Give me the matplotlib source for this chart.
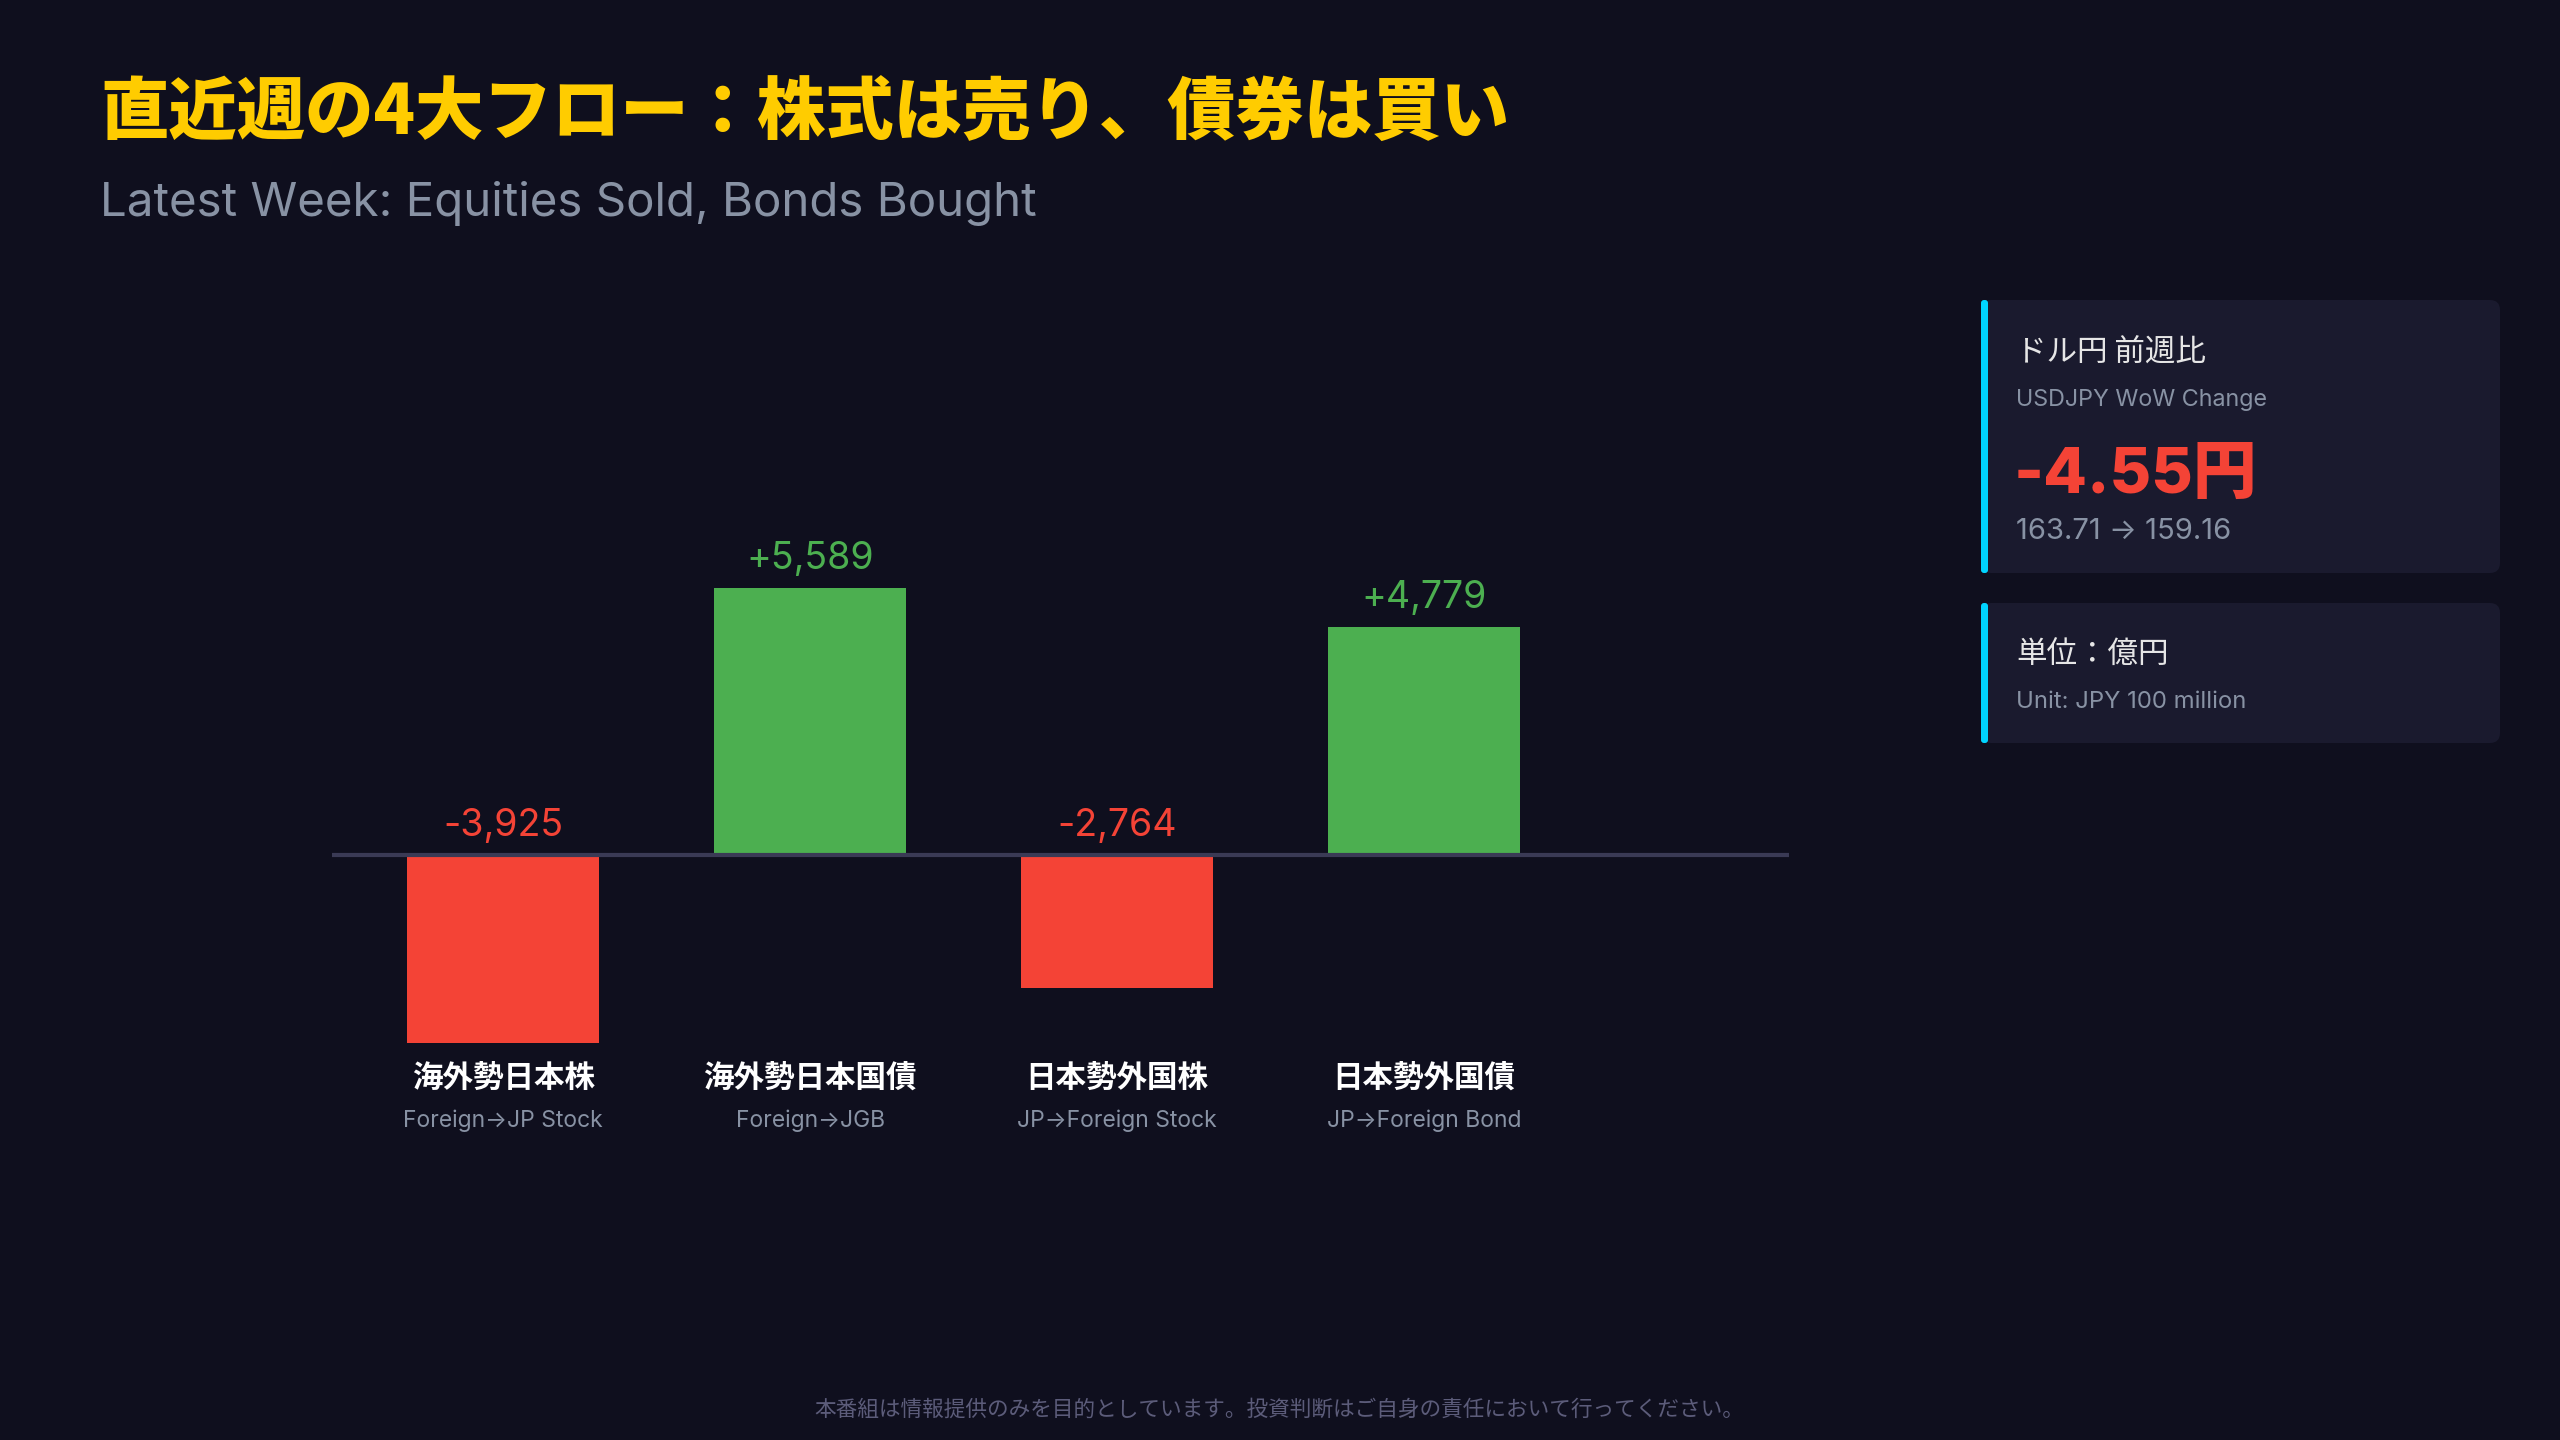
import matplotlib
matplotlib.use("Agg")
import matplotlib.pyplot as plt
from matplotlib.patches import FancyBboxPatch

# data (unit: JPY 100 million)
cats_jp = ["海外勢日本株", "海外勢日本国債", "日本勢外国株", "日本勢外国債"]
cats_en = ["Foreign→JP Stock", "Foreign→JGB", "JP→Foreign Stock", "JP→Foreign Bond"]
flows = [-3925, 5589, -2764, 4779]
usdjpy_prev = 163.71
usdjpy_now = 159.16

BG = "#0f0f1e"
CARD = "#1a1a2e"
RED = "#f44336"
GREEN = "#4caf50"
YELLOW = "#ffcc00"
GREY = "#8892a4"
CYAN = "#00d4ff"

JP = ["Noto Sans CJK JP", "DejaVu Sans"]
MIX = ["Inter", "Noto Sans CJK JP", "DejaVu Sans"]
plt.rcParams["font.family"] = MIX

fig = plt.figure(figsize=(25.6, 14.4), dpi=100, facecolor=BG)

# overlay in pixel coordinates for titles and cards
ov = fig.add_axes([0, 0, 1, 1])
ov.set_xlim(0, 2560)
ov.set_ylim(1440, 0)
ov.axis("off")
ov.patch.set_alpha(0)

ov.text(100, 114, "直近週の4大フロー：株式は売り、債券は買い", color=YELLOW,
        fontsize=49.2, fontweight="heavy", family=JP, va="center", ha="left")
ov.text(100, 204, "Latest Week: Equities Sold, Bonds Bought", color=GREY,
        fontsize=34.2, va="center", ha="left")

# bar chart
ax = fig.add_axes([0.1295, 0.1989, 0.5695, 0.55])
ax.set_facecolor(BG)
x = list(range(len(flows)))
colors = [GREEN if v >= 0 else RED for v in flows]
ax.bar(x, flows, width=0.627, color=colors, zorder=2)
ax.axhline(0, color="#3a3a55", lw=3, zorder=3)
ax.set_xlim(-0.559, 4.19)
ax.set_ylim(-6230, 10322)
for xi, v, c in zip(x, flows, colors):
    ax.text(xi, max(v, 0) + 610, f"{v:+,}".replace("+-", "-"), color=c,
            fontsize=27, ha="center", va="center", zorder=4)
    ax.text(xi, -4640, cats_jp[xi], color="white", fontsize=22,
            fontweight="bold", family=JP, ha="center", va="center")
    ax.text(xi, -5540, cats_en[xi], color=GREY, fontsize=16.5,
            ha="center", va="center")
ax.axis("off")

# side cards
for (y0, h) in [(300, 273), (603, 140)]:
    ov.add_patch(FancyBboxPatch((1981, y0), 519, h, boxstyle="round,pad=0,rounding_size=10",
                                fc=CARD, ec="none", zorder=1))
    ov.add_patch(FancyBboxPatch((1981, y0), 7, h, boxstyle="round,pad=0,rounding_size=3",
                                fc=CYAN, ec="none", zorder=2))

change = usdjpy_now - usdjpy_prev
ov.text(2016, 353, "ドル円 前週比", color="#e6e6e6", fontsize=22, family=JP, va="center")
ov.text(2016, 400, "USDJPY WoW Change", color=GREY, fontsize=16.8, va="center")
ov.text(2014, 476, f"{change:.2f}円", color=RED, fontsize=46, fontweight="heavy",
        va="center")
ov.text(2016, 531, f"{usdjpy_prev:.2f} → {usdjpy_now:.2f}", color=GREY, fontsize=21,
        va="center")
ov.text(2016, 655, "単位：億円", color="#e6e6e6", fontsize=22, family=JP, va="center")
ov.text(2016, 702, "Unit: JPY 100 million", color=GREY, fontsize=17.2, va="center")

ov.text(1279, 1410, "本番組は情報提供のみを目的としています。投資判断はご自身の責任において行ってください。",
        color="#5c5c7a", fontsize=15.6, family=JP, ha="center", va="center")

fig.savefig("out.png", dpi=100, facecolor=BG)
